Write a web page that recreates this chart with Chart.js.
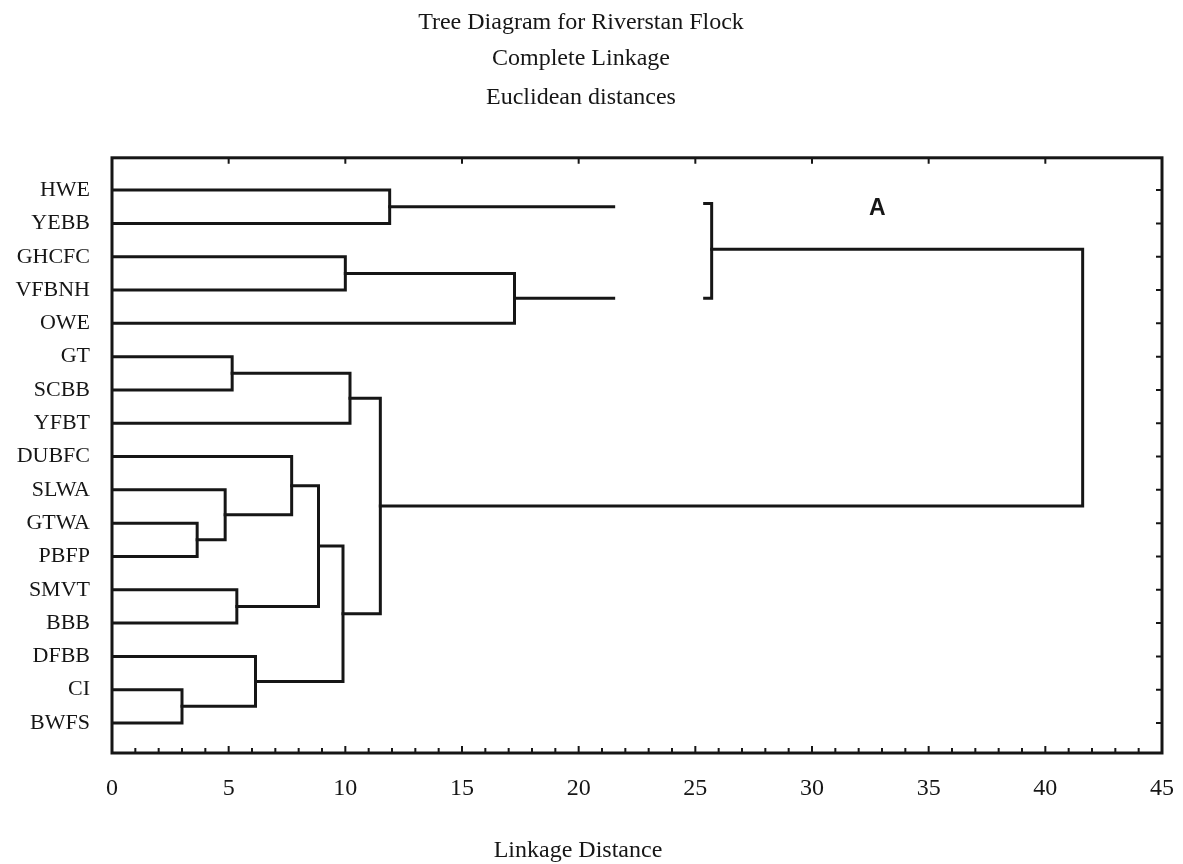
<!DOCTYPE html>
<html>
<head>
<meta charset="utf-8">
<title>Tree Diagram for Riverstan Flock</title>
<script src="https://cdn.jsdelivr.net/npm/chart.js@4.4.1/dist/chart.umd.min.js"></script>
<style>
  html, body { margin: 0; padding: 0; background: #fff; }
  #wrap { width: 1183px; height: 864px; }
</style>
</head>
<body>
<div id="wrap"><canvas id="treeChart" width="1183" height="864"></canvas></div>
<script>
// Leaves, top to bottom
const leaves = ['HWE', 'YEBB', 'GHCFC', 'VFBNH', 'OWE', 'GT', 'SCBB', 'YFBT', 'DUBFC',
                'SLWA', 'GTWA', 'PBFP', 'SMVT', 'BBB', 'DFBB', 'CI', 'BWFS'];

// Merges: ids 0-16 are the leaves, merge k gets id 17 + k
const mergeLeft  = [0, 2, 18, 5, 20, 10, 9, 8, 12, 24, 15, 14, 26, 21];
const mergeRight = [1, 3, 4, 6, 7, 11, 22, 23, 13, 25, 16, 27, 28, 29];
const mergeDist  = [11.9, 10.0, 17.25, 5.15, 10.2, 3.65, 4.85, 7.7, 5.35, 8.85, 3.0, 6.15, 9.9, 11.5];

// Group "A": the two upper clusters are cut, bracketed, then joined to the rest
const groupA = [17, 19];
const groupALabel = 'A';
const cutDist = 21.5;
const bracketDist = 25.7;
const rootDist = 41.6;
const rootOther = 30;

const xTickValues = [0, 5, 10, 15, 20, 25, 30, 35, 40, 45];

const ink = '#161616';
const serif = "'Liberation Serif', 'Times New Roman', serif";

// node positions
const nodeY = leaves.map((_, i) => i);
const nodeX = leaves.map(() => 0);
for (let k = 0; k < mergeDist.length; k++) {
    nodeY.push((nodeY[mergeLeft[k]] + nodeY[mergeRight[k]]) / 2);
    nodeX.push(mergeDist[k]);
}

function lineSet(points) {
    return {
        data: points,
        showLine: true,
        borderColor: ink,
        borderWidth: 3,
        pointRadius: 0,
        fill: false,
        tension: 0,
        borderJoinStyle: 'miter',
        borderCapStyle: 'square'
    };
}

const datasets = [];
for (let k = 0; k < mergeDist.length; k++) {
    const a = mergeLeft[k], b = mergeRight[k];
    datasets.push(lineSet([
        {x: nodeX[a], y: nodeY[a]},
        {x: mergeDist[k], y: nodeY[a]},
        {x: mergeDist[k], y: nodeY[b]},
        {x: nodeX[b], y: nodeY[b]}
    ]));
}
// cut stubs of group A
groupA.forEach(function (id) {
    datasets.push(lineSet([{x: nodeX[id], y: nodeY[id]}, {x: cutDist, y: nodeY[id]}]));
});
// bracket and root link
const yTopA = nodeY[groupA[0]] - 0.1;
const yBotA = nodeY[groupA[1]];
const yMidA = (yTopA + yBotA) / 2 - 0.05;
datasets.push(lineSet([
    {x: bracketDist - 0.3, y: yTopA},
    {x: bracketDist, y: yTopA},
    {x: bracketDist, y: yBotA},
    {x: bracketDist - 0.3, y: yBotA}
]));
datasets.push(lineSet([
    {x: bracketDist, y: yMidA},
    {x: rootDist, y: yMidA},
    {x: rootDist, y: nodeY[rootOther]},
    {x: nodeX[rootOther], y: nodeY[rootOther]}
]));

// frame, inward ticks, group label and axis caption
const framePlugin = {
    id: 'frame',
    afterDraw(chart) {
        const ctx = chart.ctx;
        const area = chart.chartArea;
        const xs = chart.scales.x, ys = chart.scales.y;
        ctx.save();
        ctx.strokeStyle = ink;
        ctx.lineWidth = 3;
        ctx.strokeRect(area.left, area.top, area.right - area.left, area.bottom - area.top);
        ctx.lineWidth = 2;
        ctx.beginPath();
        for (let v = 1; v < 45; v++) {
            const px = xs.getPixelForValue(v);
            const len = v % 5 === 0 ? 7 : 5;
            ctx.moveTo(px, area.bottom);
            ctx.lineTo(px, area.bottom - len);
            if (v % 5 === 0) {
                ctx.moveTo(px, area.top);
                ctx.lineTo(px, area.top + 6);
            }
        }
        leaves.forEach(function (_, i) {
            const py = ys.getPixelForValue(i);
            ctx.moveTo(area.right, py);
            ctx.lineTo(area.right - 6, py);
        });
        ctx.stroke();

        ctx.fillStyle = ink;
        ctx.textAlign = 'center';
        ctx.textBaseline = 'middle';
        ctx.font = "bold 23px 'Liberation Sans', Arial, sans-serif";
        ctx.fillText(groupALabel, xs.getPixelForValue(32.8), ys.getPixelForValue(0.55));
        ctx.font = '24px ' + serif;
        ctx.fillText('Linkage Distance', 578, 851);
        ctx.restore();
    }
};

Chart.defaults.font.family = serif;
Chart.defaults.color = ink;

const treeCtx = document.getElementById('treeChart').getContext('2d');
const treeChart = new Chart(treeCtx, {
    type: 'scatter',
    data: { datasets: datasets },
    options: {
        responsive: false,
        animation: false,
        layout: { padding: { left: 0, right: 21, top: 0, bottom: 0 } },
        plugins: {
            legend: { display: false },
            tooltip: { enabled: false },
            title: {
                display: true,
                text: 'Tree Diagram for Riverstan Flock',
                font: { size: 24, weight: 'normal', lineHeight: 1.2 },
                padding: { top: 8, bottom: 2 }
            },
            subtitle: {
                display: true,
                text: ['Complete Linkage', 'Euclidean distances'],
                font: { size: 24, weight: 'normal', lineHeight: 1.625 },
                padding: { top: 0, bottom: 41 }
            }
        },
        scales: {
            x: {
                type: 'linear',
                min: 0,
                max: 45,
                grid: { display: false, drawTicks: false },
                border: { display: false },
                afterBuildTicks: function (scale) {
                    scale.ticks = xTickValues.map(v => ({ value: v }));
                },
                afterFit: function (scale) {
                    scale.height = 111;
                    scale.paddingLeft = 0;
                    scale.paddingRight = 0;
                },
                ticks: {
                    padding: 21,
                    maxRotation: 0,
                    font: { size: 24 },
                    callback: function (value) { return value; }
                }
            },
            y: {
                type: 'linear',
                reverse: true,
                min: -0.97,
                max: 16.9,
                grid: { display: false, drawTicks: false },
                border: { display: false },
                afterBuildTicks: function (scale) {
                    scale.ticks = leaves.map((_, i) => ({ value: i }));
                },
                afterFit: function (scale) { scale.width = 112; },
                ticks: {
                    padding: 22,
                    font: { size: 22 },
                    callback: function (value) { return leaves[value]; }
                }
            }
        }
    },
    plugins: [framePlugin]
});
</script>
</body>
</html>
